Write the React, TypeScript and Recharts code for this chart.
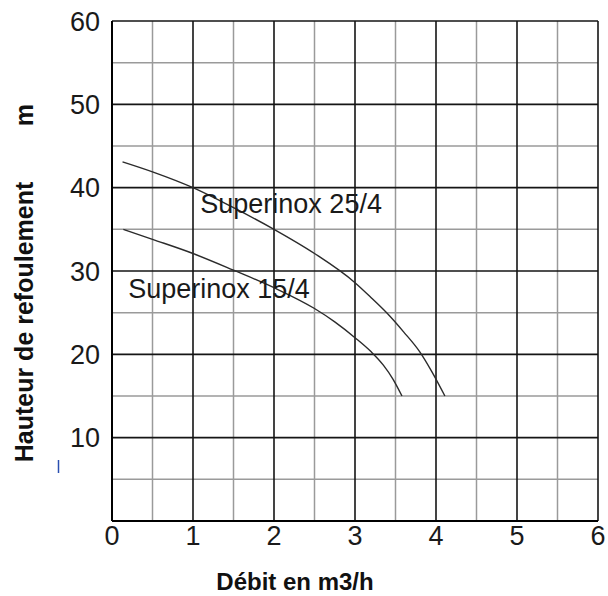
import React from 'react';
import {
    LineChart,
    Line,
    XAxis,
    YAxis,
    CartesianGrid,
    ReferenceDot,
    Label,
} from 'recharts';

// pump curves
const flow25 = [0.13, 0.5, 1.0, 1.5, 2.0, 2.5, 3.0, 3.2, 3.4, 3.6, 3.8, 3.95, 4.11];
const head25 = [43.1, 41.9, 40.0, 37.6, 35.0, 32.1, 28.6, 26.8, 24.9, 22.7, 20.3, 17.9, 15.0];

const flow15 = [0.14, 0.5, 1.0, 1.5, 2.0, 2.5, 2.75, 3.0, 3.2, 3.35, 3.47, 3.58];
const head15 = [35.0, 33.8, 32.1, 30.1, 28.0, 25.5, 23.9, 22.0, 20.3, 18.7, 17.0, 15.0];

const curveNames = ['Superinox 25/4', 'Superinox 15/4'];
const labelFlow = [1.09, 0.2];
const labelHead = [37.0, 26.8];

const xTicks = [0, 1, 2, 3, 4, 5, 6];
const yTicks = [10, 20, 30, 40, 50, 60];
const xMinor = [0.5, 1.5, 2.5, 3.5, 4.5, 5.5];
const yMinor = [5, 15, 25, 35, 45, 55];
const xMajor = [0, 1, 2, 3, 4, 5, 6];
const yMajor = [0, 10, 20, 30, 40, 50, 60];

const toPoints = (xs: number[], ys: number[]) => xs.map((x, i) => ({ flow: x, head: ys[i] }));

const data25 = toPoints(flow25, head25);
const data15 = toPoints(flow15, head15);

const FONT = '"Liberation Sans", Arial, sans-serif';

const CurveLabel = (props: any) => {
    const { viewBox, text } = props;
    return (
        <text x={viewBox.x + 1} y={viewBox.y + 1} fontSize={27} fontFamily={FONT} fill="#1a1a1a" textAnchor="start">
            {text}
        </text>
    );
};

const YTitle = (props: any) => {
    const { viewBox } = props;
    const cx = viewBox.x + 33;
    return (
        <g>
            <text
                x={cx}
                y={322}
                transform={`rotate(-90 ${cx} 322)`}
                textAnchor="middle"
                fontSize={25}
                fontWeight="bold"
                fontFamily={FONT}
                fill="#111"
            >
                Hauteur de refoulement
            </text>
            <text
                x={cx}
                y={115}
                transform={`rotate(-90 ${cx} 115)`}
                textAnchor="middle"
                fontSize={25}
                fontWeight="bold"
                fontFamily={FONT}
                fill="#111"
            >
                m
            </text>
            <line x1={58.5} y1={460} x2={58.5} y2={473} stroke="#2a4fb0" strokeWidth={1.5} />
        </g>
    );
};

const XTitle = () => (
    <text x={295} y={590} textAnchor="middle" fontSize={24} fontWeight="bold" fontFamily={FONT} fill="#111">
        Débit en m3/h
    </text>
);

export default function App() {
    const tickStyle = { fontSize: 27, fontFamily: FONT, fill: '#1a1a1a' };
    return (
        <div style={{ position: 'absolute', left: 0, top: 0, width: 608, height: 596, background: '#fff' }}>
            <LineChart width={608} height={596} margin={{ top: 21, right: 10, left: 0, bottom: 0 }}>
                <CartesianGrid
                    horizontalValues={yMinor}
                    verticalValues={xMinor}
                    stroke="#9a9a9a"
                    strokeWidth={1.5}
                />
                <CartesianGrid
                    horizontalValues={yMajor}
                    verticalValues={xMajor}
                    stroke="#151515"
                    strokeWidth={1.6}
                />
                <XAxis
                    type="number"
                    dataKey="flow"
                    domain={[0, 6]}
                    ticks={xTicks}
                    height={75}
                    tickSize={0}
                    tickMargin={5}
                    tick={tickStyle}
                    axisLine={{ stroke: '#000', strokeWidth: 2 }}
                    tickLine={false}
                    allowDataOverflow
                >
                    <Label content={<XTitle />} />
                </XAxis>
                <YAxis
                    type="number"
                    dataKey="head"
                    domain={[0, 60]}
                    ticks={yTicks}
                    width={112}
                    tickSize={0}
                    tickMargin={12}
                    tick={tickStyle}
                    axisLine={{ stroke: '#000', strokeWidth: 2 }}
                    tickLine={false}
                    allowDataOverflow
                >
                    <Label content={<YTitle />} />
                </YAxis>
                <Line
                    data={data25}
                    dataKey="head"
                    type="monotone"
                    stroke="#2b2b2b"
                    strokeWidth={1.4}
                    dot={false}
                    isAnimationActive={false}
                />
                <Line
                    data={data15}
                    dataKey="head"
                    type="monotone"
                    stroke="#2b2b2b"
                    strokeWidth={1.4}
                    dot={false}
                    isAnimationActive={false}
                />
                {curveNames.map((name, i) => (
                    <ReferenceDot
                        key={name}
                        x={labelFlow[i]}
                        y={labelHead[i]}
                        r={1}
                        fill="none"
                        stroke="none"
                        label={<CurveLabel text={name} />}
                    />
                ))}
            </LineChart>
        </div>
    );
}
